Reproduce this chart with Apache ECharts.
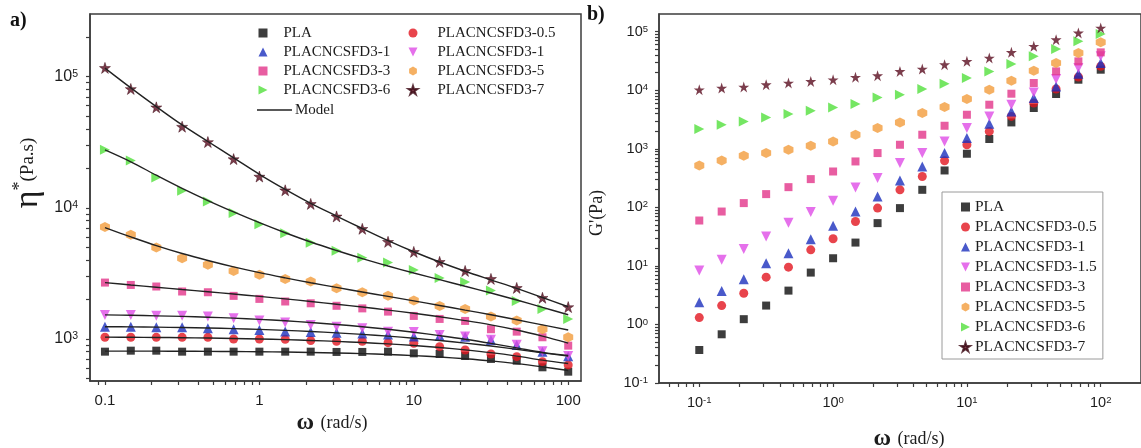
<!DOCTYPE html>
<html>
<head>
<meta charset="utf-8">
<script src="https://cdn.jsdelivr.net/npm/echarts@6/dist/echarts.min.js"></script>
<style>
  html, body { margin: 0; padding: 0; background: #ffffff; }
  #chart { width: 1141px; height: 448px; }
</style>
</head>
<body>
<div id="chart"></div>
<script>
// Angular frequency (rad/s), shared by both panels
const omega = [0.1, 0.147, 0.215, 0.316, 0.464, 0.681, 1, 1.47, 2.15, 3.16, 4.64, 6.81, 10, 14.7, 21.5, 31.6, 46.4, 68.1, 100];

// Sample names (series order)
const sampleNames = ['PLA', 'PLACNCSFD3-0.5', 'PLACNCSFD3-1', 'PLACNCSFD3-1.5', 'PLACNCSFD3-3', 'PLACNCSFD3-5', 'PLACNCSFD3-6', 'PLACNCSFD3-7'];

// (a) complex viscosity η* (Pa.s), measured
const etaPLA  = [800, 814, 814, 800, 800, 800, 800, 800, 800, 796, 796, 800, 777, 768, 741, 704, 683, 608, 563];
const etaS05  = [1030, 1030, 1028, 1028, 1028, 1000, 1000, 995, 971, 960, 960, 937, 927, 873, 824, 768, 733, 671, 634];
const etaS1   = [1240, 1240, 1228, 1228, 1207, 1186, 1171, 1140, 1130, 1117, 1100, 1080, 1045, 1055, 1040, 980, 900, 800, 738];
const etaS15  = [1525, 1525, 1500, 1500, 1480, 1440, 1380, 1335, 1280, 1241, 1207, 1135, 1130, 1070, 1045, 985, 905, 805, 742];
const etaS3   = [2690, 2580, 2510, 2300, 2270, 2130, 2020, 1930, 1870, 1790, 1710, 1616, 1498, 1421, 1372, 1186, 1137, 1030, 889];
const etaS5   = [7120, 6220, 4970, 4130, 3670, 3300, 3080, 2870, 2740, 2440, 2270, 2130, 1960, 1785, 1694, 1480, 1380, 1186, 1030];
const etaS6   = [27700, 22900, 17030, 13480, 11170, 9120, 7480, 6390, 5400, 4700, 4150, 3820, 3360, 2920, 2720, 2340, 1950, 1690, 1420];
const etaS7   = [116500, 80500, 58300, 41500, 31700, 23500, 17300, 13600, 10700, 8590, 6910, 5500, 4610, 3870, 3300, 2870, 2450, 2060, 1750];

// (a) model curves
const modelPLA = [808, 808, 807, 806, 804, 802, 799, 795, 789, 782, 773, 761, 746, 728, 706, 680, 648, 612, 575];
const modelS05 = [1032, 1030, 1027, 1022, 1016, 1008, 999, 988, 974, 958, 939, 917, 891, 861, 826, 786, 740, 690, 650];
const modelS1  = [1240, 1236, 1230, 1222, 1212, 1199, 1183, 1163, 1140, 1113, 1083, 1050, 1013, 973, 930, 883, 833, 783, 740];
const modelS15 = [1525, 1515, 1500, 1485, 1465, 1440, 1410, 1375, 1335, 1290, 1240, 1185, 1125, 1060, 995, 925, 855, 790, 750];
const modelS3  = [2690, 2580, 2480, 2380, 2290, 2200, 2110, 2020, 1930, 1840, 1750, 1660, 1570, 1475, 1380, 1280, 1170, 1050, 930];
const modelS5  = [7050, 6000, 5150, 4480, 3960, 3540, 3200, 2920, 2680, 2470, 2280, 2110, 1950, 1800, 1660, 1530, 1400, 1280, 1170];
const modelS6  = [27600, 22400, 17700, 14050, 11350, 9300, 7700, 6450, 5480, 4720, 4100, 3600, 3180, 2830, 2520, 2240, 1980, 1740, 1530];
const modelS7  = [116000, 82000, 59000, 42800, 32000, 24000, 18000, 13800, 10800, 8650, 6950, 5620, 4620, 3860, 3280, 2820, 2430, 2070, 1760];

// (b) storage modulus G' (Pa)
const gPLA = [0.366, 0.679, 1.23, 2.10, 3.78, 7.68, 13.5, 25.0, 53.7, 96.9, 199, 426, 822, 1466, 2816, 4966, 8610, 15100, 22390];
const gS05 = [1.31, 2.10, 3.41, 6.41, 9.50, 18.8, 29.0, 57.2, 96.9, 199, 336, 624, 1170, 1976, 3566, 6040, 10490, 16810, 25530];
const gS1  = [2.40, 3.74, 5.93, 11.1, 16.5, 28.6, 48.6, 84.7, 153, 287, 498, 844, 1524, 2673, 4345, 7360, 11610, 19150, 29170];
const gS15 = [8.31, 12.7, 19.5, 31.7, 54.3, 82.8, 129, 218, 316, 570, 844, 1333, 2258, 3566, 5650, 9170, 15530, 23940, 37840];
const gS3  = [59.5, 84.7, 118, 168, 221, 303, 409, 607, 844, 1170, 1735, 2470, 3810, 5650, 8710, 13280, 20950, 31050, 44250];
const gS5  = [518, 631, 759, 844, 961, 1125, 1333, 1735, 2258, 2816, 4077, 5160, 7074, 10200, 14530, 21530, 29170, 43250, 65600];
const gS6  = [2170, 2570, 2930, 3430, 3920, 4470, 5080, 5810, 7530, 8380, 10490, 12910, 16180, 20950, 28040, 37840, 50600, 68240, 91400];
const gS7  = [10200, 10900, 11350, 12420, 13280, 14130, 15100, 16670, 17700, 20950, 23000, 27300, 31050, 35500, 44250, 56100, 72950, 95050, 115600];

// Axis ranges and tick values (in data units)
const rangeAx = [0.08, 121];
const rangeAy = [478, 3.0e5];
const rangeBx = [0.05, 200];
const rangeBy = [0.1, 2e5];
const ticksAx = [0.1, 1, 10, 100];
const minorAx = [0.09, 0.2, 0.3, 0.4, 0.5, 0.6, 0.7, 0.8, 0.9, 2, 3, 4, 5, 6, 7, 8, 9, 20, 30, 40, 50, 60, 70, 80, 90];
const ticksAy = [1e3, 1e4, 1e5];
const minorAy = [500, 600, 700, 800, 900, 2e3, 3e3, 4e3, 5e3, 6e3, 7e3, 8e3, 9e3, 2e4, 3e4, 4e4, 5e4, 6e4, 7e4, 8e4, 9e4, 2e5];
const ticksBx = [0.1, 1, 10, 100];
const minorBx = [0.06, 0.07, 0.08, 0.09, 0.2, 0.3, 0.4, 0.5, 0.6, 0.7, 0.8, 0.9, 2, 3, 4, 5, 6, 7, 8, 9, 20, 30, 40, 50, 60, 70, 80, 90];
const ticksBy = [0.1, 1, 10, 100, 1e3, 1e4, 1e5];
const minorBy = [0.2, 0.3, 0.4, 0.5, 0.6, 0.7, 0.8, 0.9, 2, 3, 4, 5, 6, 7, 8, 9, 20, 30, 40, 50, 60, 70, 80, 90,
  200, 300, 400, 500, 600, 700, 800, 900, 2e3, 3e3, 4e3, 5e3, 6e3, 7e3, 8e3, 9e3, 2e4, 3e4, 4e4, 5e4, 6e4, 7e4, 8e4, 9e4];

// Legend entries of panel (a), as printed in its two columns
const legendACol1 = ['PLA', 'PLACNCSFD3-1', 'PLACNCSFD3-3', 'PLACNCSFD3-6'];
const legendACol2 = ['PLACNCSFD3-0.5', 'PLACNCSFD3-1.5', 'PLACNCSFD3-5', 'PLACNCSFD3-7'];
const legendACol2Text = ['PLACNCSFD3-0.5', 'PLACNCSFD3-1', 'PLACNCSFD3-5', 'PLACNCSFD3-7'];

const etaSets = [etaPLA, etaS05, etaS1, etaS15, etaS3, etaS5, etaS6, etaS7];
const modelSets = [modelPLA, modelS05, modelS1, modelS15, modelS3, modelS5, modelS6, modelS7];
const gSets = [gPLA, gS05, gS1, gS15, gS3, gS5, gS6, gS7];

// Marker styles per sample
const STAR = 'path://M50,0 L61.2,34.5 L97.6,34.5 L68.2,55.9 L79.4,90.5 L50,69.1 L20.6,90.5 L31.8,55.9 L2.4,34.5 L38.8,34.5 Z';
const HEX = 'path://M50,0 L93.3,25 L93.3,75 L50,100 L6.7,75 L6.7,25 Z';
const TRI_DOWN = 'path://M0,0 L100,0 L50,100 Z';
const TRI_RIGHT = 'path://M0,0 L100,50 L0,100 Z';
const markers = [
  { color: '#0d0d0d', symbol: 'rect',     size: 8 },
  { color: '#e2151f', symbol: 'circle',   size: 9 },
  { color: '#1c2fbd', symbol: 'triangle', size: 10 },
  { color: '#df4ce6', symbol: TRI_DOWN,   size: 10 },
  { color: '#e2358a', symbol: 'rect',     size: 8 },
  { color: '#f39c3c', symbol: HEX,        size: 10 },
  { color: '#52e03c', symbol: TRI_RIGHT,  size: 10 },
  { color: '#5a0d1f', symbol: STAR,       size: 11 }
];

// Plot areas of the two panels
const gridA = { left: 90, top: 14, width: 491, height: 367 };
const gridB = { left: 659, top: 14, width: 492, height: 369 };

const AXIS = '#3c3c3c';
const TEXT = '#1c1c1c';
const SANS = '"Liberation Sans", Arial, sans-serif';
const SERIF = '"Liberation Serif", "Times New Roman", serif';

// Both panels are log-log: the axes run in decades (log10 of the data).
const lg = (v) => Math.log10(v);
const lgAll = (vals) => vals.map(lg);
const pairs = (ys) => omega.map((w, i) => [lg(w), lg(ys[i])]);
const plainLabel = (d) => String(Number(Math.pow(10, d).toPrecision(3)));
const powerLabel = (d) => '10{s|' + Math.round(d) + '}';

// One axis per side: ticks at every decade and at the 2..9 steps in between,
// labels at the decades only.
function decadeAxis(gridIndex, range, majors, minors, label) {
  return {
    type: 'value', gridIndex: gridIndex, min: lg(range[0]), max: lg(range[1]),
    splitLine: { show: false }, minorTick: { show: false }, minorSplitLine: { show: false },
    axisLine: { show: true, onZero: false, lineStyle: { color: AXIS, width: 1.5 } },
    axisTick: { show: true, length: 4, customValues: lgAll(majors.concat(minors)), lineStyle: { color: AXIS, width: 1.2 } },
    axisLabel: Object.assign({ show: true, customValues: lgAll(majors), color: TEXT, fontFamily: SANS }, label)
  };
}

const supRich = (base, sup) => ({ s: { fontSize: sup, fontFamily: SANS, color: TEXT, verticalAlign: 'top', lineHeight: base * 0.7 } });

const xAxes = [
  decadeAxis(0, rangeAx, ticksAx, minorAx, { fontSize: 15, margin: 12, formatter: plainLabel }),
  decadeAxis(1, rangeBx, ticksBx, minorBx, { fontSize: 14.5, margin: 12, formatter: powerLabel, rich: supRich(14.5, 9.5) })
];
const yAxes = [
  decadeAxis(0, rangeAy, ticksAy, minorAy, { fontSize: 16, margin: 12, formatter: powerLabel, rich: supRich(16, 10.5) }),
  decadeAxis(1, rangeBy, ticksBy, minorBy, { fontSize: 14.5, margin: 11, formatter: powerLabel, rich: supRich(14.5, 9.5) })
];

const series = [];
// (a) measured points
sampleNames.forEach((name, i) => {
  const m = markers[i];
  series.push({
    name: name, type: 'scatter', xAxisIndex: 0, yAxisIndex: 0,
    symbol: m.symbol, symbolSize: m.size,
    itemStyle: { color: m.color, borderColor: i === 7 ? '#3a0612' : m.color, borderWidth: i === 7 ? 0.6 : 0 },
    data: pairs(etaSets[i]), z: 2
  });
});
// (a) model curves
modelSets.forEach((ys) => {
  series.push({
    name: 'Model', type: 'line', xAxisIndex: 0, yAxisIndex: 0,
    symbol: 'none', showSymbol: false, smooth: 0.35, silent: true,
    lineStyle: { color: '#222222', width: 1.4 },
    itemStyle: { color: '#222222' },
    data: pairs(ys), z: 3
  });
});
// (b) storage modulus
sampleNames.forEach((name, i) => {
  const m = markers[i];
  series.push({
    name: name, type: 'scatter', xAxisIndex: 1, yAxisIndex: 1,
    symbol: m.symbol, symbolSize: m.size,
    itemStyle: { color: m.color },
    data: pairs(gSets[i]), z: 2
  });
});

const legendText = { fontFamily: SERIF, fontSize: 15, lineHeight: 15, color: TEXT };

const option = {
  backgroundColor: '#ffffff',
  animation: false,
  grid: [
    Object.assign({ show: true, borderColor: AXIS, borderWidth: 1.5, backgroundColor: 'transparent' }, gridA),
    Object.assign({ show: true, borderColor: AXIS, borderWidth: 1.5, backgroundColor: 'transparent' }, gridB)
  ],
  xAxis: xAxes,
  yAxis: yAxes,
  legend: [
    {
      orient: 'vertical', left: 258.5, top: 25.5, padding: 0, itemGap: 4, itemWidth: 9, itemHeight: 9,
      data: legendACol1, textStyle: Object.assign({ padding: [0, 0, 0, 11] }, legendText)
    },
    {
      orient: 'vertical', left: 407.5, top: 25.5, padding: 0, itemGap: 4, itemWidth: 9, itemHeight: 9,
      data: legendACol2, textStyle: Object.assign({ padding: [0, 0, 0, 15] }, legendText),
      formatter: (name) => legendACol2Text[legendACol2.indexOf(name)]
    },
    {
      orient: 'vertical', left: 257, top: 102.5, padding: 0, itemWidth: 35, itemHeight: 1.6,
      data: [{ name: 'Model', icon: 'rect' }], textStyle: Object.assign({ padding: [0, 0, 0, -2] }, legendText)
    },
    {
      orient: 'vertical', left: 942, top: 192, padding: [7, 6, 4, 18], itemGap: 4, itemWidth: 9, itemHeight: 9,
      borderColor: '#9a9a9a', borderWidth: 1, backgroundColor: '#ffffff',
      data: sampleNames, textStyle: Object.assign({}, legendText, { fontSize: 15.5, lineHeight: 15 })
    }
  ],
  graphic: [
    { type: 'text', left: 10, top: 11, style: { text: 'a)', font: 'bold 20px ' + SERIF, fill: '#111111' } },
    { type: 'text', left: 587, top: 5, style: { text: 'b)', font: 'bold 20px ' + SERIF, fill: '#111111' } },
    {
      type: 'text', x: 332, y: 423,
      style: {
        text: '{w|ω}  {u|(rad/s)}', align: 'center', verticalAlign: 'middle',
        rich: { w: { font: 'bold 24px ' + SERIF, fill: TEXT }, u: { font: '18px ' + SERIF, fill: TEXT } }
      }
    },
    {
      type: 'text', x: 909, y: 439,
      style: {
        text: '{w|ω}  {u|(rad/s)}', align: 'center', verticalAlign: 'middle',
        rich: { w: { font: 'bold 24px ' + SERIF, fill: TEXT }, u: { font: '18px ' + SERIF, fill: TEXT } }
      }
    },
    {
      type: 'text', x: 28, y: 173, rotation: Math.PI / 2,
      style: {
        text: '{e|η}{s|*}{u|(Pa.s)}', align: 'center', verticalAlign: 'middle',
        rich: {
          e: { font: '34px ' + SERIF, fill: TEXT },
          s: { font: '18px ' + SERIF, fill: TEXT, verticalAlign: 'top' },
          u: { font: '19px ' + SERIF, fill: TEXT }
        }
      }
    },
    {
      type: 'text', x: 597, y: 213, rotation: Math.PI / 2,
      style: { text: "G'(Pa)", font: '18px ' + SERIF, fill: TEXT, align: 'center', verticalAlign: 'middle' }
    }
  ],
  series: series
};

const chart = echarts.init(document.getElementById('chart'), null, { renderer: 'canvas' });
chart.setOption(option);
</script>
</body>
</html>
